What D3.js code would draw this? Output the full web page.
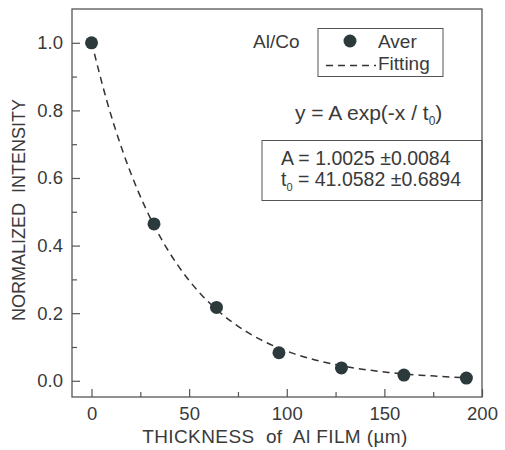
<!DOCTYPE html>
<html><head><meta charset="utf-8">
<script src="https://cdn.jsdelivr.net/npm/d3@7"></script>
<style>
body{margin:0;background:#fff;}
svg text{font-family:"Liberation Sans",Arial,sans-serif;fill:#3a3a3a;white-space:pre;}
</style></head>
<body><svg id="c" width="505" height="450"></svg>
<script>
// Data
const thickness = [0, 32, 64, 96, 128, 160, 192];
const intensity = [1.0, 0.464, 0.217, 0.083, 0.038, 0.017, 0.008];
// Fitted curve samples
const fitX = [0,8,16,24,32,40,48,56,64,72,80,88,96,104,112,120,128,136,144,152,160,168,176,184,192];
const fitY = [1.0025,0.8250,0.6790,0.5588,0.4599,0.3785,0.3115,0.2563,0.2110,0.1736,0.1429,0.1176,0.0968,0.0796,0.0655,0.0539,0.0444,0.0365,0.0301,0.0247,0.0203,0.0167,0.0138,0.0113,0.0093];
const xTicks = [0, 50, 100, 150, 200];
const xMinor = [25, 75, 125, 175];
const yTicks = [0.0, 0.2, 0.4, 0.6, 0.8, 1.0];
const yMinor = [0.1, 0.3, 0.5, 0.7, 0.9];
const legendLabels = ["Aver", "Fitting"];
const sampleLabel = "Al/Co";
const paramLines = ["A = 1.0025 \u00B10.0084", " = 41.0582 \u00B10.6894"];

const svg = d3.select("#c");
const L = 72, R = 482, T = 9, B = 397;
const x = d3.scaleLinear().domain([-10, 200]).range([L, R]);
const y = d3.scaleLinear().domain([-0.048, 1.1]).range([B, T]);
const frameColor = "#555", dotColor = "#2c3a3c";

// axes with inward ticks
svg.append("g").attr("transform", `translate(0,${B})`)
  .call(d3.axisBottom(x).tickValues(xTicks).tickSize(-8).tickPadding(10).tickFormat(d3.format("d")));
svg.append("g").attr("transform", `translate(0,${B})`)
  .call(d3.axisBottom(x).tickValues(xMinor).tickSize(-5).tickFormat(""));
svg.append("g").attr("transform", `translate(${L},0)`)
  .call(d3.axisLeft(y).tickValues(yTicks).tickSize(-8).tickPadding(9).tickFormat(d3.format(".1f")));
svg.append("g").attr("transform", `translate(${L},0)`)
  .call(d3.axisLeft(y).tickValues(yMinor).tickSize(-5).tickFormat(""));
svg.selectAll(".domain").remove();
svg.selectAll(".tick line").attr("stroke", frameColor).attr("stroke-width", 1.2);
svg.selectAll(".tick text").attr("font-size", 18.5).attr("fill", "#3a3a3a")
  .style("font-family", '"Liberation Sans",Arial,sans-serif');

// frame
svg.append("rect").attr("x", L).attr("y", T).attr("width", R - L).attr("height", B - T)
  .attr("fill", "none").attr("stroke", frameColor).attr("stroke-width", 1.3);

// fit line
svg.append("path").datum(fitX.map((d, i) => [d, fitY[i]]))
  .attr("d", d3.line().x(d => x(d[0])).y(d => y(d[1])).curve(d3.curveMonotoneX))
  .attr("fill", "none").attr("stroke", "#333").attr("stroke-width", 1.5).attr("stroke-dasharray", "7,5");

// points
svg.selectAll("circle.pt").data(thickness).join("circle").attr("class", "pt")
  .attr("cx", d => x(d)).attr("cy", (d, i) => y(intensity[i])).attr("r", 6.5).attr("fill", dotColor);

// axis titles
svg.append("text").attr("x", 275).attr("y", 443).attr("text-anchor", "middle").attr("font-size", 19)
  .attr("letter-spacing", 0.4).text("THICKNESS  of  Al FILM (\u00B5m)");
svg.append("text").attr("transform", "translate(25,210) rotate(-90)").attr("text-anchor", "middle")
  .attr("font-size", 18).text("NORMALIZED  INTENSITY");

// legend
svg.append("text").attr("x", 253).attr("y", 48).attr("font-size", 19).text(sampleLabel);
svg.append("rect").attr("x", 318).attr("y", 28.5).attr("width", 125).attr("height", 48)
  .attr("fill", "none").attr("stroke", frameColor).attr("stroke-width", 1);
svg.append("circle").attr("cx", 350).attr("cy", 41).attr("r", 6.5).attr("fill", dotColor);
svg.append("line").attr("x1", 326).attr("x2", 376).attr("y1", 65.5).attr("y2", 65.5)
  .attr("stroke", "#333").attr("stroke-width", 1.4).attr("stroke-dasharray", "7,5");
svg.append("text").attr("x", 378).attr("y", 48).attr("font-size", 19).text(legendLabels[0]);
svg.append("text").attr("x", 378).attr("y", 70).attr("font-size", 19).text(legendLabels[1]);

// equation
const eq = svg.append("text").attr("x", 295).attr("y", 120).attr("font-size", 21);
eq.append("tspan").text("y = A exp(-x / t");
eq.append("tspan").attr("font-size", 12).attr("dy", 5).text("0");
eq.append("tspan").attr("dy", -5).text(")");

// parameter box
svg.append("rect").attr("x", 262).attr("y", 140.5).attr("width", 220).attr("height", 60)
  .attr("fill", "none").attr("stroke", frameColor).attr("stroke-width", 1);
svg.append("text").attr("x", 281).attr("y", 165).attr("font-size", 19.5).text(paramLines[0]);
const p2 = svg.append("text").attr("x", 281).attr("y", 186).attr("font-size", 19.5);
p2.append("tspan").text("t");
p2.append("tspan").attr("font-size", 11).attr("dy", 5).text("0");
p2.append("tspan").attr("dy", -5).text(paramLines[1]);
</script></body></html>
